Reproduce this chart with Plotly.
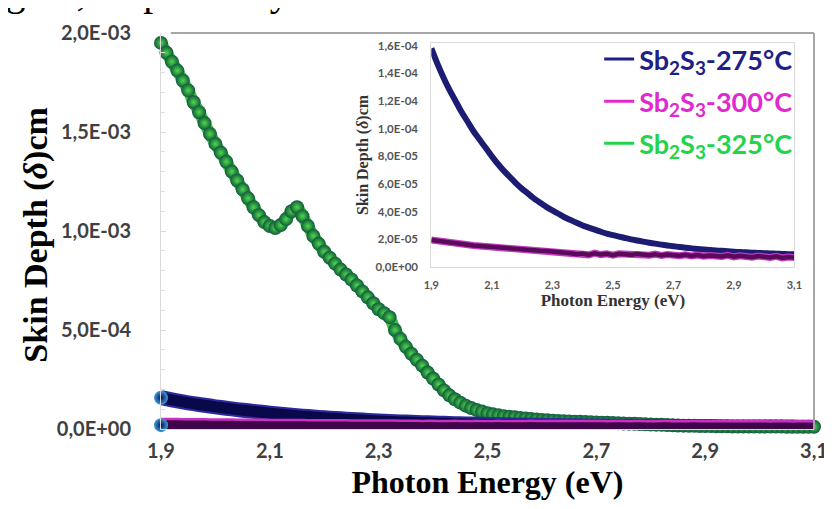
import plotly.graph_objects as go

# ---------------- data ----------------
# photon energy grids (eV)
energy_fine = [round(1.90 + 0.01 * i, 2) for i in range(121)]
energy_coarse = [round(1.90 + 0.02 * i, 2) for i in range(61)]

# Sb2S3-325°C skin depth (x1e-3 cm), step 0.01 eV
depth_325_e3 = [
    1.95, 1.90, 1.855, 1.81, 1.76, 1.71, 1.65, 1.60, 1.545, 1.49,
    1.44, 1.395, 1.35, 1.30, 1.255, 1.21, 1.165, 1.12, 1.08, 1.045,
    1.025, 1.015, 1.03, 1.06, 1.10, 1.12, 1.075, 1.025, 0.975, 0.935,
    0.895, 0.865, 0.835, 0.805, 0.78, 0.755, 0.725, 0.695, 0.665, 0.635,
    0.605, 0.585, 0.565, 0.50, 0.455, 0.415, 0.38, 0.35, 0.32, 0.285,
    0.255, 0.225, 0.195, 0.17, 0.15, 0.133, 0.118, 0.106, 0.096, 0.088,
    0.080, 0.074, 0.069, 0.065, 0.062, 0.059, 0.056, 0.053, 0.050, 0.048,
    0.046, 0.044, 0.042, 0.040, 0.039, 0.038, 0.037, 0.036, 0.035, 0.034,
    0.033, 0.032, 0.031, 0.030, 0.029, 0.028, 0.027, 0.026, 0.025, 0.024,
    0.023, 0.022, 0.021, 0.020, 0.019, 0.018, 0.017, 0.016, 0.016, 0.015,
    0.015, 0.015, 0.014, 0.014, 0.014, 0.013, 0.013, 0.013, 0.013, 0.012,
    0.012, 0.012, 0.012, 0.012, 0.012, 0.011, 0.011, 0.011, 0.011, 0.011, 0.011,
]

# Sb2S3-275°C skin depth (x1e-5 cm), step 0.02 eV
depth_275_e5 = [
    15.8, 14.7, 13.7, 12.8, 12.0, 11.2, 10.5, 9.8, 9.2, 8.6,
    8.0, 7.45, 6.95, 6.5, 6.05, 5.65, 5.3, 4.95, 4.65, 4.35,
    4.1, 3.85, 3.6, 3.4, 3.2, 3.0, 2.85, 2.7, 2.55, 2.42,
    2.3, 2.2, 2.1, 2.0, 1.92, 1.84, 1.76, 1.69, 1.62, 1.56,
    1.5, 1.45, 1.4, 1.35, 1.31, 1.27, 1.23, 1.2, 1.17, 1.14,
    1.11, 1.08, 1.06, 1.04, 1.02, 1.0, 0.98, 0.96, 0.95, 0.93, 0.92,
]

# Sb2S3-300°C skin depth (x1e-5 cm), step 0.02 eV
depth_300_e5 = [
    1.95, 1.88, 1.82, 1.76, 1.71, 1.66, 1.61, 1.56, 1.52, 1.48,
    1.44, 1.40, 1.36, 1.33, 1.30, 1.27, 1.24, 1.21, 1.18, 1.16,
    1.13, 1.10, 1.06, 1.00, 0.93, 0.97, 0.88, 1.00, 0.90, 0.95,
    0.86, 0.96, 0.92, 0.88, 0.95, 0.91, 0.86, 0.93, 0.84, 0.91,
    0.86, 0.82, 0.89, 0.80, 0.87, 0.78, 0.84, 0.80, 0.76, 0.85,
    0.74, 0.82, 0.76, 0.71, 0.80, 0.72, 0.69, 0.77, 0.66, 0.73, 0.68,
]

depth_325 = [v * 1e-3 for v in depth_325_e3]
depth_275 = [v * 1e-5 for v in depth_275_e5]
depth_300 = [v * 1e-5 for v in depth_300_e5]

x_ticks = [1.9, 2.1, 2.3, 2.5, 2.7, 2.9, 3.1]
x_tick_text = ["1,9", "2,1", "2,3", "2,5", "2,7", "2,9", "3,1"]
main_y_ticks = [0, 5e-4, 1e-3, 1.5e-3, 2e-3]
main_y_text = ["0,0E+00", "5,0E-04", "1,0E-03", "1,5E-03", "2,0E-03"]
inset_y_ticks = [0, 2e-5, 4e-5, 6e-5, 8e-5, 1e-4, 1.2e-4, 1.4e-4, 1.6e-4]
inset_y_text = ["0,0E+00", "2,0E-05", "4,0E-05", "6,0E-05", "8,0E-05",
                "1,0E-04", "1,2E-04", "1,4E-04", "1,6E-04"]

series_names = ["275", "300", "325"]
legend_colors = ["#1f1f86", "#e02ad0", "#22d44a"]

# ---------------- figure ----------------
fig = go.Figure()

band = dict(shape="spline", smoothing=0.6, simplify=False)

# main plot: green (325 °C) band of ball markers
fig.add_trace(go.Scatter(
    x=energy_fine, y=depth_325, mode="lines", showlegend=False, cliponaxis=False,
    line=dict(color="#3fbf3f", width=12, **band),
))
fig.add_trace(go.Scatter(
    x=energy_fine, y=depth_325, mode="markers", showlegend=False, cliponaxis=False,
    marker=dict(size=14, color="#0f5a3c", line=dict(width=0),
                gradient=dict(type="radial", color="#4fd84a")),
))
# blue (275 °C) band
fig.add_trace(go.Scatter(
    x=energy_coarse, y=depth_275, mode="lines", showlegend=False, cliponaxis=False,
    line=dict(color="#2a2a9a", width=15, **band),
))
fig.add_trace(go.Scatter(
    x=energy_coarse, y=depth_275, mode="lines", showlegend=False, cliponaxis=False,
    line=dict(color="#08084a", width=11, **band),
))
# purple (300 °C) band
fig.add_trace(go.Scatter(
    x=energy_coarse, y=depth_300, mode="lines", showlegend=False, cliponaxis=False,
    line=dict(color="#cc2ec4", width=15, **band),
))
fig.add_trace(go.Scatter(
    x=energy_coarse, y=depth_300, mode="lines", showlegend=False, cliponaxis=False,
    line=dict(color="#3e0648", width=10, **band),
))
# first points drawn as glossy balls
fig.add_trace(go.Scatter(
    x=energy_coarse[:1] + energy_coarse[:1], y=depth_275[:1] + depth_300[:1],
    mode="markers", showlegend=False, cliponaxis=False,
    marker=dict(size=14, color="#3aa0e0", line=dict(width=0),
                gradient=dict(type="radial", color="#0a0a50")),
))

# inset lines
fig.add_trace(go.Scatter(
    x=energy_coarse, y=depth_275, mode="lines", showlegend=False,
    line=dict(color="#1c1c72", width=6, **band), xaxis="x2", yaxis="y2",
))
fig.add_trace(go.Scatter(
    x=energy_coarse, y=depth_300, mode="lines", showlegend=False,
    line=dict(color="#c43ac0", width=7), xaxis="x2", yaxis="y2",
))
fig.add_trace(go.Scatter(
    x=energy_coarse, y=depth_300, mode="lines", showlegend=False,
    line=dict(color="#5a0a5a", width=4.5), xaxis="x2", yaxis="y2",
))

# legend entries
for name, col in zip(series_names, legend_colors):
    fig.add_trace(go.Scatter(
        x=[None], y=[None], mode="lines", legendgroup=name,
        line=dict(color=col, width=3), xaxis="x2", yaxis="y2",
        name=f'<span style="color:{col}"><b>Sb<sub>2</sub>S<sub>3</sub>-{name}°C</b></span>',
    ))

serif = "Liberation Serif"
sans = "Lato"

fig.update_layout(
    width=832, height=509,
    margin=dict(l=153, r=15, t=20, b=88),
    paper_bgcolor="white", plot_bgcolor="white",
    showlegend=True,
    legend=dict(x=0.671, y=0.995, xanchor="left", yanchor="top",
                bgcolor="rgba(0,0,0,0)", font=dict(family=sans, size=27),
                tracegroupgap=4, itemwidth=30),
    xaxis=dict(range=[1.9, 3.1], tickvals=x_ticks, ticktext=x_tick_text,
               showgrid=False, zeroline=False, showline=True, linecolor="#d9d9d9",
               ticks="", ticklabelstandoff=4,
               tickfont=dict(family=sans, size=20, color="#404040", weight="bold"),
               title=dict(text="<b>Photon Energy (eV)</b>", standoff=9,
                          font=dict(family=serif, size=32, color="black"))),
    yaxis=dict(range=[0, 2e-3], tickvals=main_y_ticks, ticktext=main_y_text,
               showgrid=False, zeroline=False, showline=True, linecolor="#d9d9d9",
               ticks="inside", ticklen=5, tickcolor="#d9d9d9",
               minor=dict(dtick=1e-4, ticks="inside", ticklen=4, tickcolor="#e0e0e0"),
               ticklabelstandoff=25,
               tickfont=dict(family=sans, size=20, color="#404040", weight="bold")),
    xaxis2=dict(domain=[0.414, 0.970], anchor="y2", range=[1.9, 3.1],
                tickvals=x_ticks, ticktext=x_tick_text,
                showgrid=False, zeroline=False, showline=True, mirror=True,
                linecolor="#d9d9d9", ticks="", ticklabelstandoff=8,
                tickfont=dict(family=sans, size=11, color="#555555", weight="bold"),
                title=dict(text="<b>Photon Energy (eV)</b>", standoff=2,
                           font=dict(family=serif, size=17, color="#333333"))),
    yaxis2=dict(domain=[0.409, 0.975], anchor="x2", range=[0, 1.62e-4],
                tickvals=inset_y_ticks, ticktext=inset_y_text,
                showgrid=False, zeroline=False, showline=True, mirror=True,
                linecolor="#d9d9d9", ticks="", ticklabelstandoff=10,
                tickfont=dict(family=sans, size=11.5, color="#555555", weight="bold"),
                title=dict(text="<b>Skin Depth (<i>δ</i>)cm</b>", standoff=2,
                           font=dict(family=serif, size=16, color="#333333"))),
    shapes=[
        dict(type="line", xref="paper", yref="paper", x0=0.015, x1=1.0, y0=1.0, y1=1.0,
             line=dict(color="#a6a6a6", width=2)),
        dict(type="line", xref="paper", yref="paper", x0=1.0, x1=1.0, y0=0.0, y1=1.0,
             line=dict(color="#a6a6a6", width=2)),
    ],
    annotations=[
        dict(text="figure, respectively", xref="paper", yref="paper",
             x=-0.279, y=1.042, xanchor="left", yanchor="bottom", showarrow=False,
             font=dict(family=serif, size=40, color="black")),
        dict(text="<b>Skin Depth (<i>δ</i>)cm</b>", xref="paper", yref="paper",
             x=-0.191, y=0.489, xanchor="center", yanchor="middle", textangle=-90,
             showarrow=False, font=dict(family=serif, size=34, color="black")),
    ],
)

fig.write_html("out.html")
